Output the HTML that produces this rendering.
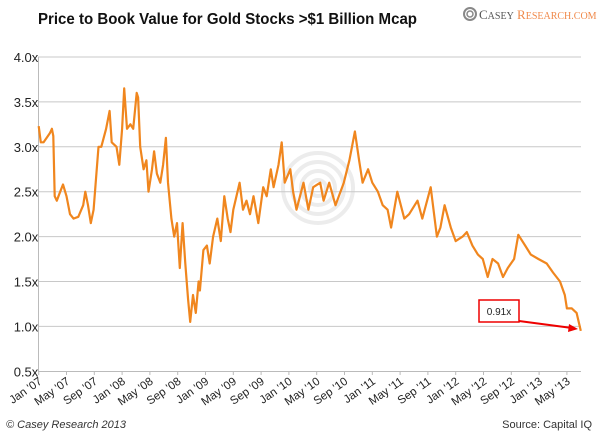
<!DOCTYPE html>
<html><head><meta charset="utf-8"><style>
body{margin:0;background:#fff;width:600px;height:433px;overflow:hidden;font-family:"Liberation Sans",sans-serif}
</style></head><body>
<svg id="c" width="600" height="433" xmlns="http://www.w3.org/2000/svg">
<text x="38" y="24" font-size="16" font-weight="bold" fill="#111" textLength="379" lengthAdjust="spacingAndGlyphs">Price to Book Value for Gold Stocks &gt;$1 Billion Mcap</text>
<g>
<circle cx="470" cy="14" r="6" fill="none" stroke="#888" stroke-width="2"/>
<circle cx="470" cy="14" r="3" fill="none" stroke="#888" stroke-width="1.5"/>
<text x="479" y="19" font-family="Liberation Serif,serif" font-size="13" fill="#555">C<tspan font-size="10">ASEY</tspan> <tspan fill="#f0894a">R</tspan><tspan fill="#f0894a" font-size="10">ESEARCH.COM</tspan></text>
</g>
<g id="wm" fill="none" stroke="#ececec" stroke-width="4">
<circle cx="318" cy="188" r="35"/><circle cx="318" cy="188" r="26"/><circle cx="318" cy="188" r="17"/><circle cx="318" cy="188" r="8"/>
</g>
<g id="grid"></g><g id="axes"></g><g id="series"></g>
<g>
<rect x="479" y="300" width="40" height="22" fill="#fff" stroke="#e00" stroke-width="1.5"/>
<text x="499" y="315" font-size="10" text-anchor="middle" fill="#222">0.91x</text>
<line x1="519" y1="321" x2="572" y2="328" stroke="#e00" stroke-width="2"/>
<polygon points="578,329 569,324 568,332" fill="#e00"/>
</g>
<text x="6" y="428" font-size="11" font-style="italic" fill="#333">© Casey Research 2013</text>
<text x="592" y="428" font-size="11" text-anchor="end" fill="#333">Source: Capital IQ</text>
</svg>
<script>
const months=[0,0.3,0.7,1.6,1.9,2.1,2.3,2.6,3.1,3.5,4,4.5,5,5.7,6.4,6.7,7.1,7.5,7.9,8.3,8.6,9,9.7,10.2,10.5,11.2,11.6,12,12.3,12.7,13.2,13.6,14.1,14.3,14.6,15.1,15.5,15.8,16.3,16.6,17,17.5,17.9,18.3,18.6,19.1,19.5,19.9,20.3,20.7,21.1,21.5,21.8,22.2,22.6,23,23.2,23.7,24.2,24.6,25.1,25.7,26.2,26.7,27.2,27.6,28,28.9,29.4,29.9,30.4,30.9,31.6,32.3,32.8,33.4,33.8,34.5,34.96,35.4,36.2,36.6,37.1,38.1,38.8,39.5,40.5,41,41.8,42.7,43.9,44.7,45.5,46.1,46.6,47.4,48,48.8,49.5,50.2,50.7,51.6,52.6,53.3,54.5,55.2,56.4,57.3,57.8,58.4,59.3,60,61,61.6,62.4,63.2,63.9,64.6,65.3,66.1,66.8,67.5,68.4,69,70,70.8,71.9,73.1,74,75,75.7,76,76.7,77.4,78];
const values=[3.23,3.05,3.05,3.15,3.2,3.12,2.45,2.4,2.5,2.58,2.45,2.25,2.2,2.22,2.35,2.5,2.35,2.15,2.3,2.7,3.0,3.0,3.2,3.4,3.05,3.0,2.8,3.2,3.65,3.2,3.25,3.2,3.6,3.55,3.0,2.75,2.85,2.5,2.75,2.95,2.7,2.6,2.8,3.1,2.6,2.2,2.0,2.15,1.65,2.15,1.7,1.3,1.05,1.35,1.15,1.5,1.4,1.85,1.9,1.7,2.0,2.2,1.95,2.45,2.2,2.05,2.3,2.6,2.3,2.4,2.25,2.45,2.15,2.55,2.45,2.75,2.55,2.8,3.05,2.6,2.75,2.5,2.3,2.6,2.3,2.55,2.6,2.4,2.6,2.35,2.6,2.85,3.17,2.85,2.6,2.75,2.6,2.5,2.35,2.3,2.1,2.5,2.2,2.25,2.4,2.2,2.55,2.0,2.1,2.35,2.1,1.95,2.0,2.05,1.9,1.8,1.75,1.55,1.75,1.7,1.55,1.65,1.75,2.02,1.9,1.8,1.75,1.7,1.6,1.5,1.35,1.2,1.2,1.15,0.95];
const yTicks=[0.5,1.0,1.5,2.0,2.5,3.0,3.5,4.0];
const xLabels=["Jan '07","May '07","Sep '07","Jan '08","May '08","Sep '08","Jan '09","May '09","Sep '09","Jan '10","May '10","Sep '10","Jan '11","May '11","Sep '11","Jan '12","May '12","Sep '12","Jan '13","May '13"];
const NS="http://www.w3.org/2000/svg";
const X=m=>38.7+m*6.95, Y=v=>57+(4-v)*89.8;
function mk(t,a,p){const e=document.createElementNS(NS,t);for(const k in a)e.setAttribute(k,a[k]);p.appendChild(e);return e;}
const g=document.getElementById('grid'),ax=document.getElementById('axes'),s=document.getElementById('series');
yTicks.forEach(v=>{
 if(v>0.5){const l=mk('line',{x1:38,x2:581,y1:Y(v),y2:Y(v),stroke:'#c8c8c8','stroke-width':1},g);
 
 }
 const t=mk('text',{x:26,y:Y(v)+5,'font-size':13,'text-anchor':'middle',fill:'#222'},ax);t.textContent=v.toFixed(1)+'x';
 
 
});
const ya=mk('line',{x1:38.5,x2:38.5,y1:57,y2:371,stroke:'#bbb'},ax);


const xa=mk('line',{x1:38,x2:581,y1:371.5,y2:371.5,stroke:'#bbb'},ax);


xLabels.forEach((lb,i)=>{const x=X(i*4);
 mk('line',{x1:x,x2:x,y1:371,y2:375,stroke:'#bbb'},ax);
 const t=mk('text',{x:x+4,y:383,'font-size':11.5,'text-anchor':'end',fill:'#222',transform:`rotate(-35 ${x+4} 383)`},ax);t.textContent=lb;
 
 
});
const pl=mk('polyline',{points:months.map((m,i)=>X(m).toFixed(1)+','+Y(values[i]).toFixed(1)).join(' '),fill:'none',stroke:'#f0861e','stroke-width':2.2,'stroke-linejoin':'round'},s);


</script>
</body></html>
